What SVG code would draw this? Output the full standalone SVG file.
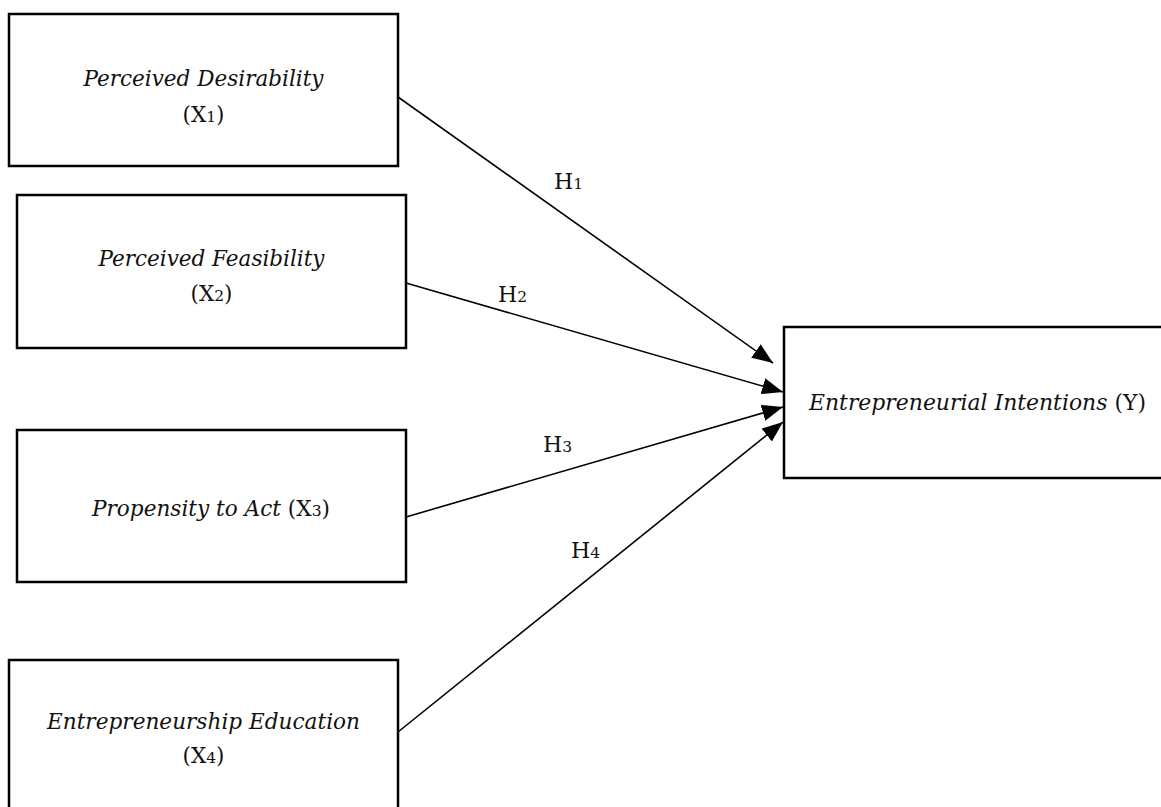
<svg xmlns="http://www.w3.org/2000/svg" width="1161" height="807" viewBox="0 0 1161 807">
<style>
.box{fill:#fff;stroke:#000;stroke-width:2.5}
.t{font-family:"DejaVu Serif","Liberation Serif",serif;font-size:21.5px;fill:#111}
.i{font-style:italic}
.sub{font-size:15.5px}
.lbl{font-family:"DejaVu Serif","Liberation Serif",serif;font-size:22px;fill:#111}
.c{fill:none;stroke:#000;stroke-width:1.6}
</style>
<defs>
<marker id="ah" markerUnits="userSpaceOnUse" markerWidth="22" markerHeight="18" refX="19" refY="7.5" orient="auto" viewBox="0 0 20 15">
<path d="M0,0 L19,7.5 L0,15 Z" fill="#000"/>
</marker>
</defs>
<rect width="1161" height="807" fill="#fff"/>
<g id="node-x1">
<rect class="box" x="9" y="14" width="389" height="152"/>
<text class="t i" x="203.5" y="86" text-anchor="middle" textLength="240" lengthAdjust="spacingAndGlyphs">Perceived Desirability</text>
<text class="t" x="203.5" y="122" text-anchor="middle">(X<tspan class="sub">1</tspan>)</text>
</g>
<g id="node-x2">
<rect class="box" x="17" y="195" width="389" height="153"/>
<text class="t i" x="211.5" y="266" text-anchor="middle" textLength="226" lengthAdjust="spacingAndGlyphs">Perceived Feasibility</text>
<text class="t" x="211.5" y="301" text-anchor="middle">(X<tspan class="sub">2</tspan>)</text>
</g>
<g id="node-x3">
<rect class="box" x="17" y="430" width="389" height="152"/>
<text class="t" x="211" y="516" text-anchor="middle" textLength="238" lengthAdjust="spacingAndGlyphs"><tspan class="i">Propensity to Act</tspan> (X<tspan class="sub">3</tspan>)</text>
</g>
<g id="node-x4">
<rect class="box" x="9" y="660" width="389" height="160"/>
<text class="t i" x="203.5" y="729" text-anchor="middle" textLength="313" lengthAdjust="spacingAndGlyphs">Entrepreneurship Education</text>
<text class="t" x="203.5" y="763" text-anchor="middle">(X<tspan class="sub">4</tspan>)</text>
</g>
<g id="node-y">
<rect class="box" x="784" y="327" width="400" height="151"/>
<text class="t" x="977.5" y="410" text-anchor="middle" textLength="337" lengthAdjust="spacingAndGlyphs"><tspan class="i">Entrepreneurial Intentions</tspan> (Y)</text>
</g>
<g id="connectors">
<line class="c" x1="398" y1="97" x2="773" y2="363" marker-end="url(#ah)"/>
<line class="c" x1="406" y1="283" x2="783" y2="392" marker-end="url(#ah)"/>
<line class="c" x1="406" y1="517" x2="783" y2="407" marker-end="url(#ah)"/>
<line class="c" x1="398" y1="732" x2="783" y2="422" marker-end="url(#ah)"/>
<text class="lbl" x="554" y="189">H<tspan class="sub">1</tspan></text>
<text class="lbl" x="498" y="302">H<tspan class="sub">2</tspan></text>
<text class="lbl" x="543" y="452">H<tspan class="sub">3</tspan></text>
<text class="lbl" x="571" y="558">H<tspan class="sub">4</tspan></text>
</g>
</svg>
